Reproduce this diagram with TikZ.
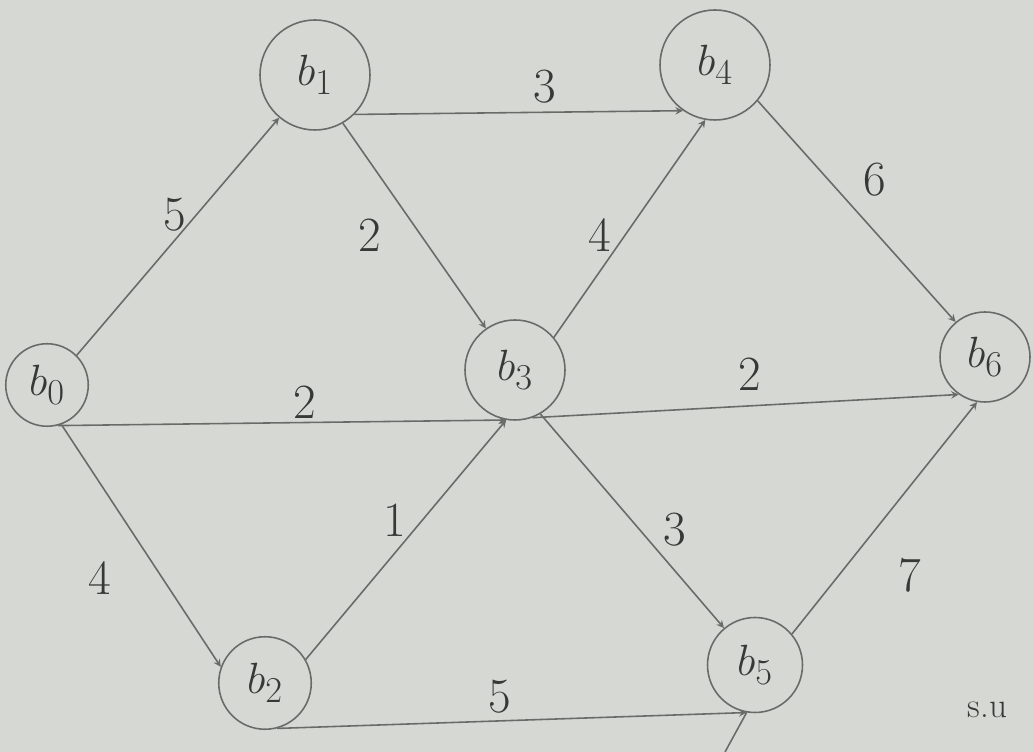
\documentclass[tikz,border=0pt]{standalone}
\usepackage{amsmath,amssymb}
\definecolor{paper}{RGB}{214,216,212}
\definecolor{pencil}{RGB}{105,107,105}
\definecolor{ink}{RGB}{55,57,55}
\tikzset{
  vertex/.style={circle,draw=pencil,line width=0.9pt,inner sep=0pt,text=ink,
    font=\fontsize{30}{32}\selectfont},
  wt/.style={text=ink,font=\fontsize{28}{30}\selectfont},
  edge/.style={draw=pencil,line width=0.9pt}
}
\begin{document}
\begin{tikzpicture}[>=stealth]
\fill[paper] (0,0) rectangle (20.66,15.04);
\useasboundingbox (0,0) rectangle (20.66,15.04);
%\def\r{1}
\path
(0.94,7.34) node[vertex,minimum size=1.65cm] (b0) {$b_0$}
(6.3,13.54) node[vertex,minimum size=2.2cm] (b1) {$b_1$}
(5.3,1.38) node[vertex,minimum size=1.85cm] (b2) {$b_2$}
(10.3,7.64) node[vertex,minimum size=2cm] (b3) {$b_3$}
(14.3,13.74) node[vertex,minimum size=2.2cm] (b4) {$b_4$}
(15.1,1.74) node[vertex,minimum size=1.9cm] (b5) {$b_5$}
(19.7,7.9) node[vertex,minimum size=1.8cm] (b6) {$b_6$}
(14.5,0) coordinate (off);
% weights
\path
(10.9,13.3) node[wt] (w14) {3}
(3.5,10.74) node[wt] (w01) {5}
(7.4,10.34) node[wt] (w13) {2}
(12.0,10.34) node[wt] (w34) {4}
(17.5,11.44) node[wt] (w46) {6}
(6.1,7.0) node[wt] (w03) {2}
(15.0,7.55) node[wt] (w36) {2}
(2.0,3.48) node[wt] (w02) {4}
(7.9,4.64) node[wt] (w23) {1}
(13.5,4.44) node[wt] (w35) {3}
(18.2,3.54) node[wt] (w56) {7}
(10.0,1.1) node[wt] (w25) {5}
(19.75,0.84) node[wt,font=\fontsize{20}{22}\selectfont] (sig) {s.u};
\draw[edge,->] (b0.45) to (b1.-130);
\draw[edge,->] (b0.-70) to (b2.160);
\draw[edge,->] (b0.-75) to (b3.-100);
\draw[edge,->] (b1.-45) to (b4.-125);
\draw[edge,->] (b1.-60) to (b3.125);
\draw[edge,->] (b2.30) to (b3.-100);
\draw[edge,->] (b2.-75) to (b5.-100);
\draw[edge,->] (b3.40) to (b4.-100);
\draw[edge,->] (b3.-60) to (b5.130);
\draw[edge,->] (b3.-70) to (b6.-125);
\draw[edge,->] (b4.-40) to (b6.130);
\draw[edge,->] (b5.40) to (b6.-100);
\draw[edge] (b5.-100) -- (off);
\end{tikzpicture}
\end{document}
